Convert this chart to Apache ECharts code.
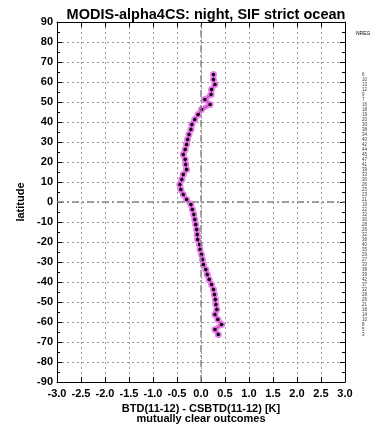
<!DOCTYPE html>
<html><head><meta charset="utf-8">
<script src="https://cdn.jsdelivr.net/npm/echarts@6/dist/echarts.min.js"></script>
<style>html,body{margin:0;padding:0;background:#fff}#c{width:385px;height:424px}</style>
</head><body><div id="c"></div>
<script>
const titleText = 'MODIS-alpha4CS: night, SIF strict ocean';
const xName = 'BTD(11-12) - CSBTD(11-12) [K]\nmutually clear outcomes';
const yName = 'latitude';
const latitudes = [63.75,61.25,58.75,56.25,53.75,51.25,48.75,46.25,43.75,41.25,38.75,36.25,33.75,31.25,28.75,26.25,23.75,21.25,18.75,16.25,13.75,11.25,8.75,6.25,3.75,1.25,-1.25,-3.75,-6.25,-8.75,-11.25,-13.75,-16.25,-18.75,-21.25,-23.75,-26.25,-28.75,-31.25,-33.75,-36.25,-38.75,-41.25,-43.75,-46.25,-48.75,-51.25,-53.75,-56.25,-58.75,-61.25,-63.75,-66.25];
const btdDiff = [0.26,0.26,0.29,0.22,0.21,0.08,0.19,0.01,-0.06,-0.13,-0.19,-0.21,-0.25,-0.28,-0.30,-0.33,-0.37,-0.33,-0.32,-0.30,-0.37,-0.40,-0.44,-0.42,-0.37,-0.30,-0.21,-0.18,-0.15,-0.13,-0.11,-0.09,-0.08,-0.07,-0.03,-0.02,0.01,0.03,0.05,0.10,0.13,0.17,0.22,0.26,0.28,0.30,0.31,0.33,0.29,0.35,0.43,0.29,0.36];
const nreg = [6,10,13,12,9,7,16,18,19,20,30,38,34,40,42,44,45,47,41,39,33,30,26,25,23,21,19,22,32,30,28,26,32,36,40,35,29,27,33,38,39,42,37,32,28,26,21,18,14,10,8,5,3];
const xTicks = [-3.0,-2.5,-2.0,-1.5,-1.0,-0.5,0.0,0.5,1.0,1.5,2.0,2.5,3.0];
const yTicks = [-90,-80,-70,-60,-50,-40,-30,-20,-10,0,10,20,30,40,50,60,70,80,90];

const chart = echarts.init(document.getElementById('c'), null, {renderer:'canvas'});
const lineData = latitudes.map((lat,i)=>[btdDiff[i], lat]);
const nregData = latitudes.map((lat,i)=>[xTicks[xTicks.length-1], lat, nreg[i]]);
const FONT = '"Liberation Sans", Arial, sans-serif';
const tickStyle = {show:true, inside:true, length:5, lineStyle:{color:'#000', width:1}};
const minorStyle = {show:true, splitNumber:2, length:3, lineStyle:{color:'#000', width:1}};
const gridLine = {show:true, lineStyle:{color:'#999', width:1, type:[2,3]}};
chart.setOption({
  animation:false,
  title:{text:titleText, left:201, top:2, textAlign:'center',
    textStyle:{fontFamily:FONT, fontWeight:'bold', fontSize:14.5, color:'#000'}},
  graphic:[{type:'text', left:356, top:31, style:{text:'NREG', fontSize:5, fontFamily:FONT, fill:'#000'}}],
  grid:{left:57, right:40, top:22, bottom:42, outerBoundsMode:'none', containLabel:false},
  xAxis:[{type:'value', min:xTicks[0], max:xTicks[xTicks.length-1], interval:0.5,
    name:xName, nameLocation:'middle', nameGap:16,
    nameTextStyle:{fontFamily:FONT, fontWeight:'bold', fontSize:11, color:'#000', lineHeight:10, verticalAlign:'top'},
    axisLine:{show:true, onZero:false, lineStyle:{color:'#000', width:1}},
    axisTick:tickStyle, minorTick:{show:false},
    axisLabel:{fontFamily:FONT, fontWeight:'bold', fontSize:11, color:'#000', margin:6, formatter:v=>v.toFixed(1)},
    splitLine:gridLine},
   {type:'value', position:'top', min:xTicks[0], max:xTicks[xTicks.length-1], interval:0.5,
    axisLine:{show:true, onZero:false, lineStyle:{color:'#000'}}, axisTick:tickStyle, axisLabel:{show:false}, splitLine:{show:false}}],
  yAxis:[{type:'value', min:yTicks[0], max:yTicks[yTicks.length-1], interval:10,
    name:yName, nameLocation:'middle', nameGap:30, nameRotate:90,
    nameTextStyle:{fontFamily:FONT, fontWeight:'bold', fontSize:11, color:'#000'},
    axisLine:{show:true, onZero:false, lineStyle:{color:'#000', width:1}},
    axisTick:tickStyle, minorTick:minorStyle,
    axisLabel:{fontFamily:FONT, fontWeight:'bold', fontSize:11, color:'#000', margin:4},
    splitLine:gridLine},
   {type:'value', position:'right', min:yTicks[0], max:yTicks[yTicks.length-1], interval:10,
    axisLine:{show:true, onZero:false, lineStyle:{color:'#000'}}, axisTick:tickStyle, minorTick:minorStyle,
    axisLabel:{show:false}, splitLine:{show:false}}],
  series:[
    {type:'line', data:lineData, xAxisIndex:0, yAxisIndex:0, symbol:'circle', symbolSize:7,
     itemStyle:{color:'#f07af0'}, lineStyle:{color:'#f07af0', width:5}, z:2,
     markLine:{silent:true, symbol:'none', label:{show:false},
       lineStyle:{color:'#888', width:1.5, type:[7,3,2,3]},
       data:[{xAxis:0},{yAxis:0}]}},
    {type:'line', data:lineData, symbol:'circle', symbolSize:3.5,
     itemStyle:{color:'#000'}, lineStyle:{color:'#5a1a5a', width:0.6}, z:3},
    {type:'scatter', data:nregData, symbolSize:0, clip:false,
     label:{show:true, position:'right', distance:17, fontSize:4.5, fontFamily:FONT, color:'#000',
       formatter:p=>String(p.value[2])}}
  ]
});
</script></body></html>
